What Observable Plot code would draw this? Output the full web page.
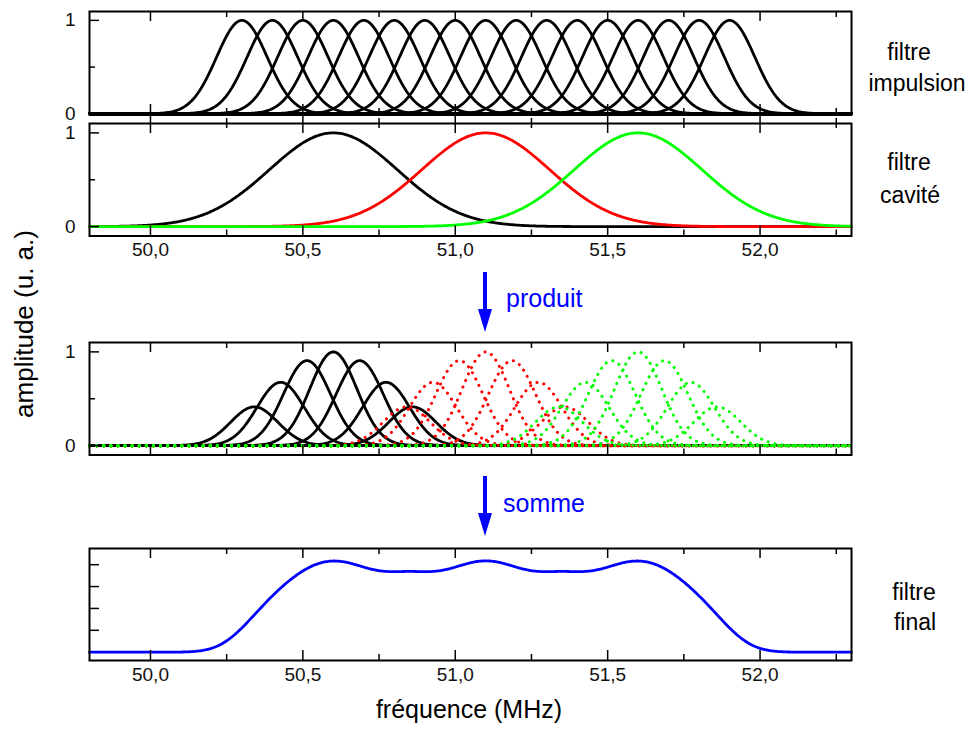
<!DOCTYPE html>
<html><head><meta charset="utf-8">
<script src="https://cdn.jsdelivr.net/npm/d3@7"></script>
<script src="https://cdn.jsdelivr.net/npm/@observablehq/plot@0.6"></script>
<style>
body{margin:0;background:#fff;}
#root{position:relative;width:972px;height:729px;background:#fff;font-family:Arial,"Liberation Sans",sans-serif;overflow:hidden}
#root > svg{position:absolute;left:0}
</style></head><body><div id="root"></div>
<script>
// ---------- data ----------
const xDomain = [49.8, 52.3];
const xMajorTicks = [50.0, 50.5, 51.0, 51.5, 52.0];
const xMinorTicks = [50.25, 50.75, 51.25, 51.75, 52.25];
const xTickLabels = ["50,0", "50,5", "51,0", "51,5", "52,0"];
const yMajorTicks = [0, 1];
const yMinorTicks = [0.5];
const yTickLabels = ["0", "1"];
const sumTicks = [0.5, 1.0, 1.5, 2.0];

// impulse filters (peak frequency, MHz) and width (sigma, MHz)
const impulseCenters = [50.3, 50.4, 50.5, 50.6, 50.7, 50.8, 50.9, 51.0, 51.1, 51.2, 51.3, 51.4, 51.5, 51.6, 51.7, 51.8, 51.9];
const impulseWidth = 0.083;
// cavity filters
const cavityCenters = [50.6, 51.1, 51.6];
const cavityWidth = 0.21;
const cavityColors = ["#000000", "#ff0000", "#00ff00"];
// which impulses are multiplied by each cavity (indices into impulseCenters)
const cavityImpulses = [[0, 1, 2, 3, 4, 5, 6], [5, 6, 7, 8, 9, 10, 11], [10, 11, 12, 13, 14, 15, 16]];

const panelLabels = [["filtre", "impulsion"], ["filtre", "cavité"], ["filtre", "final"]];
const stepLabels = ["produit", "somme"];
const yAxisLabel = "amplitude (u. a.)";
const xAxisLabel = "fréquence (MHz)";

// ---------- curves ----------
const step = 0.004;
const grid = d3.range(xDomain[0], xDomain[1] + step / 2, step);
const gauss = (x, c, s) => Math.exp(-((x - c) ** 2) / (2 * s * s));

const impulseData = impulseCenters.flatMap((c, i) => grid.map(x => ({x, y: gauss(x, c, impulseWidth), id: i})));
const cavityData = cavityCenters.map((c, k) => grid.map(x => ({x, y: gauss(x, c, cavityWidth), id: k})));
const productData = cavityCenters.map((c, k) => cavityImpulses[k].flatMap(i =>
  grid.map(x => ({x, y: gauss(x, c, cavityWidth) * gauss(x, impulseCenters[i], impulseWidth), id: i}))));
const sumData = grid.map((x, j) => ({x, y: d3.sum(productData, arr => d3.sum(cavityImpulses[0], (_, n) => arr[n * grid.length + j].y))}));

// ---------- layout ----------
const W = 972, ML = 89, MR = 121, FW = W - ML - MR;
const root = document.getElementById("root");
const fmt = (d, i) => xTickLabels[i];
const font = 'Arial, "Liberation Sans", sans-serif';

function panel({top, frameH, yDomain, marks, yTicks = true, xLabels = false, crossTop = false, sumAxis = false}) {
  const mt = 20, mb = 40;
  const MAJ = 10, MIN = 6;
  const tickMarks = [
    crossTop
      ? Plot.tickX(xMajorTicks, {x: d => d, insetTop: -9, insetBottom: frameH - MAJ, strokeWidth: 1.5})
      : Plot.tickX(xMajorTicks, {x: d => d, insetBottom: frameH - MAJ, strokeWidth: 1.5}),
    crossTop
      ? Plot.tickX(xMinorTicks, {x: d => d, insetTop: -5, insetBottom: frameH - MIN + 1, strokeWidth: 1.5})
      : Plot.tickX(xMinorTicks, {x: d => d, insetBottom: frameH - MIN, strokeWidth: 1.5}),
    Plot.tickX(xMajorTicks, {x: d => d, insetTop: frameH - MAJ, strokeWidth: 1.5}),
    Plot.tickX(xMinorTicks, {x: d => d, insetTop: frameH - MIN, strokeWidth: 1.5})
  ];
  if (sumAxis) {
    tickMarks.push(Plot.tickY(sumTicks, {y: d => d, insetRight: FW - MAJ, strokeWidth: 1.5}));
  } else if (yTicks) {
    tickMarks.push(Plot.tickY(yMajorTicks, {y: d => d, insetRight: FW - MAJ, strokeWidth: 1.5}));
    tickMarks.push(Plot.tickY(yMinorTicks, {y: d => d, insetRight: FW - MIN, strokeWidth: 1.5}));
    tickMarks.push(Plot.text(yMajorTicks, {y: d => d, frameAnchor: "left", dx: -14, textAnchor: "end", text: (d, i) => yTickLabels[i], fontSize: 19, fill: "#111"}));
  }
  if (xLabels) {
    tickMarks.push(Plot.text(xMajorTicks, {x: d => d, frameAnchor: "bottom", dy: 20, text: fmt, fontSize: 19, fill: "#111"}));
  }
  const p = Plot.plot({
    width: W, height: frameH + mt + mb,
    marginLeft: ML, marginRight: MR, marginTop: mt, marginBottom: mb,
    x: {domain: xDomain, axis: null},
    y: {domain: yDomain, axis: null},
    style: {fontFamily: font, fontSize: "19px", background: "transparent", overflow: "visible"},
    marks: [...marks, ...tickMarks, Plot.frame({stroke: "#000", strokeWidth: 2})]
  });
  p.style.top = (top - mt) + "px";
  root.appendChild(p);
}

// panel 1: impulse filters
panel({top: 11, frameH: 103, yDomain: [-0.008, 1.095],
  marks: [Plot.line(impulseData, {x: "x", y: "y", z: "id", stroke: "#000", strokeWidth: 2.8})]});

// panel 2: cavity filters
panel({top: 123, frameH: 112.5, yDomain: [-0.1, 1.1], xLabels: true, crossTop: true,
  marks: cavityData.map((d, k) => Plot.line(d, {x: "x", y: "y", stroke: cavityColors[k], strokeWidth: 2.8}))});

// panel 3: products
panel({top: 342, frameH: 112.5, yDomain: [-0.1, 1.1],
  marks: productData.map((d, k) => Plot.line(d, {x: "x", y: "y", z: "id", stroke: cavityColors[k],
    strokeWidth: k === 0 ? 2.8 : 3, strokeLinecap: k === 0 ? "butt" : "round",
    strokeDasharray: k === 0 ? null : "0.1,7"}))});

// panel 4: sum
panel({top: 548, frameH: 112, yDomain: [-0.19, 2.37], xLabels: true, sumAxis: true,
  marks: [Plot.line(sumData, {x: "x", y: "y", stroke: "#0000ff", strokeWidth: 2.8})]});

// ---------- overlay: titles, arrows ----------
const svg = d3.select(root).append("svg").attr("width", W).attr("height", 729)
  .style("top", "0px").style("pointer-events", "none").style("font-family", font);

const rightLabels = [
  {lines: panelLabels[0], x: [909, 917], y: [51.5, 83]},
  {lines: panelLabels[1], x: [909, 910], y: [161.5, 195]},
  {lines: panelLabels[2], x: [914, 915], y: [591.5, 622]}
];
rightLabels.forEach(l => l.lines.forEach((t, i) => svg.append("text")
  .attr("x", l.x[i]).attr("y", l.y[i]).attr("text-anchor", "middle").attr("dominant-baseline", "central")
  .attr("font-size", 23).attr("fill", "#000").text(t)));

svg.append("text").attr("transform", "translate(33,324) rotate(-90)").attr("text-anchor", "middle")
  .attr("font-size", 26).attr("fill", "#000").text(yAxisLabel);
svg.append("text").attr("x", 469).attr("y", 718).attr("text-anchor", "middle")
  .attr("font-size", 25).attr("fill", "#000").text(xAxisLabel);

const arrows = [{x: 485, y0: 272, y1: 332, label: stepLabels[0], lx: 506, ly: 298},
                {x: 485, y0: 476, y1: 536, label: stepLabels[1], lx: 503, ly: 503}];
arrows.forEach(a => {
  svg.append("line").attr("x1", a.x).attr("x2", a.x).attr("y1", a.y0).attr("y2", a.y1 - 20)
    .attr("stroke", "#0000ff").attr("stroke-width", 4);
  svg.append("path").attr("d", `M${a.x - 7},${a.y1 - 23}L${a.x + 7},${a.y1 - 23}L${a.x},${a.y1}Z`).attr("fill", "#0000ff");
  svg.append("text").attr("x", a.lx).attr("y", a.ly).attr("dominant-baseline", "central")
    .attr("font-size", 25).attr("fill", "#0000ff").text(a.label);
});
</script></body></html>
